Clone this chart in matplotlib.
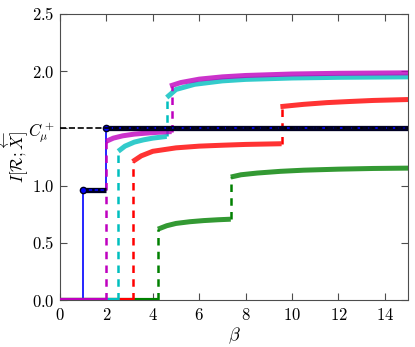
import matplotlib
matplotlib.use('Agg')
import matplotlib.pyplot as plt

plt.rcParams['mathtext.fontset'] = 'cm'
plt.rcParams['font.family'] = 'serif'
plt.rcParams['font.serif'] = ['DejaVu Serif']

# levels of the optimal (blue) solution
blue_beta = [0.0, 0.98, 0.98, 2.0, 2.0, 15.0]
blue_info = [0.0, 0.0, 0.963, 0.963, 1.5, 1.5]
c_mu = 1.5

# colored branches: lower segment and upper segment of each
magenta_lo_b = [1.98, 2.3, 2.7, 3.2, 3.8, 4.3, 4.81]
magenta_lo_i = [1.386, 1.415, 1.435, 1.450, 1.460, 1.467, 1.472]
magenta_hi_b = [4.74, 5.2, 6.0, 7.0, 8.0, 10.0, 12.0, 15.0]
magenta_hi_i = [1.87, 1.90, 1.93, 1.950, 1.962, 1.975, 1.981, 1.985]

cyan_lo_b = [2.51, 2.8, 3.2, 3.6, 4.0, 4.6]
cyan_lo_i = [1.30, 1.345, 1.38, 1.40, 1.415, 1.43]
cyan_hi_b = [4.6, 5.0, 5.8, 7.0, 8.0, 10.0, 12.0, 15.0]
cyan_hi_i = [1.77, 1.84, 1.885, 1.915, 1.928, 1.940, 1.946, 1.950]

red_lo_b = [3.13, 3.5, 4.0, 5.0, 6.0, 7.0, 8.0, 9.55]
red_lo_i = [1.21, 1.26, 1.30, 1.33, 1.345, 1.353, 1.360, 1.366]
red_hi_b = [9.5, 10.5, 11.5, 12.5, 13.5, 15.0]
red_hi_i = [1.69, 1.71, 1.725, 1.735, 1.744, 1.752]

green_lo_b = [4.22, 4.6, 5.0, 5.6, 6.2, 6.8, 7.36]
green_lo_i = [0.62, 0.65, 0.67, 0.685, 0.695, 0.702, 0.707]
green_hi_b = [7.36, 7.8, 8.5, 9.5, 10.5, 12.0, 13.5, 15.0]
green_hi_i = [1.075, 1.095, 1.11, 1.125, 1.135, 1.144, 1.150, 1.153]

branches = [
    ('g', green_lo_b, green_lo_i, green_hi_b, green_hi_i),
    ('r', red_lo_b, red_lo_i, red_hi_b, red_hi_i),
    ('c', cyan_lo_b, cyan_lo_i, cyan_hi_b, cyan_hi_i),
    ('m', magenta_lo_b, magenta_lo_i, magenta_hi_b, magenta_hi_i),
]
colors = {'g': (0, 0.5, 0), 'r': (1, 0, 0), 'c': (0, 0.75, 0.75), 'm': (0.75, 0, 0.75)}

fig = plt.figure(figsize=(4.15, 3.47), dpi=100)
ax = fig.add_axes([0.1446, 0.135, 0.8386, 0.825])

# blue step
ax.plot(blue_beta, blue_info, color='b', lw=1.2, zorder=2)

for key, lo_b, lo_i, hi_b, hi_i in branches:
    col = colors[key]
    # zero part
    ax.plot([0, lo_b[0]], [0, 0], color=col, lw=3, solid_capstyle='butt', zorder=3)
    # dashed jumps
    ax.plot([lo_b[0], lo_b[0]], [0, lo_i[0]], color=col, lw=1.8, ls=(0, (3, 2.5)), zorder=3)
    ax.plot([lo_b[-1], lo_b[-1]], [lo_i[-1], hi_i[0]], color=col, lw=1.8, ls=(0, (3, 2.5)), zorder=3)
    # branches
    ax.plot(lo_b, lo_i, color=col, lw=3.6, alpha=0.8, solid_capstyle='butt', zorder=3)
    ax.plot(hi_b, hi_i, color=col, lw=3.6, alpha=0.8, solid_capstyle='butt', zorder=3)

# black thick plateaus with blue markers
ax.plot(blue_beta[2:4], blue_info[2:4], color='#000022', lw=3.8, solid_capstyle='butt', zorder=4)
ax.plot(blue_beta[4:], blue_info[4:], color='#000022', lw=3.8, solid_capstyle='butt', zorder=4)
ax.plot(blue_beta[2:4], blue_info[2:4], color='b', lw=1.2, ls=(0, (2, 1.5)), zorder=5)
ax.plot(blue_beta[4:], blue_info[4:], color='b', lw=1.2, ls=(0, (2, 1.5)), zorder=5)
ax.plot([blue_beta[2], blue_beta[4]], [blue_info[2], blue_info[4]], 'o', color='b',
        ms=4.5, mec='#000022', zorder=6)

# statistical complexity reference
ax.plot([0, 15], [c_mu, c_mu], color='k', lw=1.2, ls='--', zorder=6)

ax.set_xlim(0, 15)
ax.set_ylim(0, 2.5)
xt = [0, 2, 4, 6, 8, 10, 12, 14]
ax.set_xticks(xt)
ax.set_xticklabels([f'${v}$' for v in xt], fontsize=12)
yt = [0.0, 0.5, 1.0, 1.5, 2.0, 2.5]
ylab = ['$0.0$', '$0.5$', '$1.0$', r'$C_\mu^+$', '$2.0$', '$2.5$']
ax.set_yticks(yt)
ax.set_yticklabels(ylab, fontsize=12)
ax.tick_params(direction='in', top=True, right=True, length=5, width=0.8, color='0.3')
ax.tick_params(axis='y', pad=4)
ax.tick_params(axis='x', pad=5)
for s in ax.spines.values():
    s.set_color('0.3')
ax.set_xlabel(r'$\beta$', fontsize=13)
ax.xaxis.set_label_coords(0.5, -0.09)
ax.set_ylabel(r'$I[\mathcal{R};\overleftarrow{X}]$', fontsize=12)
ax.yaxis.set_label_coords(-0.083, 0.5)

plt.savefig('out.png', dpi=100)
plt.close()
